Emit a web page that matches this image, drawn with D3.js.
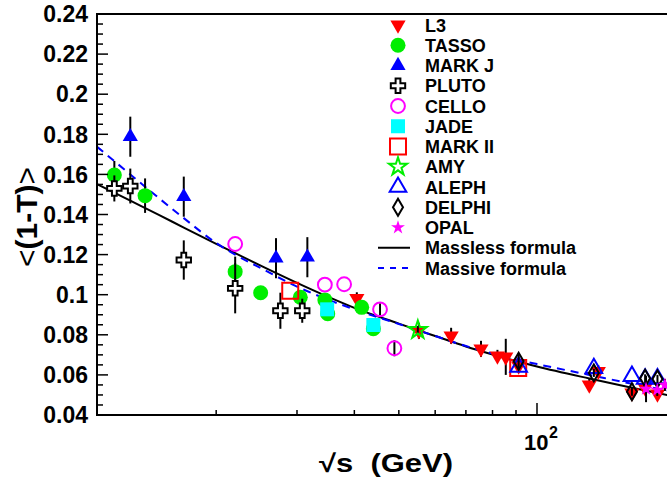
<!DOCTYPE html>
<html><head><meta charset="utf-8">
<script src="https://cdn.jsdelivr.net/npm/d3@7"></script>
<style>
body{margin:0;background:#fff}
svg{display:block}
text{font-family:"Liberation Sans",Arial,Helvetica,sans-serif;font-weight:bold;fill:#000}
</style>
</head><body>
<svg id="chart" width="667" height="480"></svg>
<script>
// ---------- data ----------
const yTickValues = [0.04,0.06,0.08,0.10,0.12,0.14,0.16,0.18,0.20,0.22,0.24];
const yTickLabels = ["0.04","0.06","0.08","0.1","0.12","0.14","0.16","0.18","0.2","0.22","0.24"];
const xMinorTicks = [20,30,40,50,60,70,80,90];
const xMajorTicks = [100];

const l3E   = [40.5, 55.3, 65.0, 75.5, 82.0, 85.5, 91.2, 130.0, 136.0, 161.0, 172.0, 183.0];
const l3V   = [0.0982,0.0820,0.0795,0.0730,0.0695,0.0690,0.0645,0.0550,0.0618,0.0510,0.0535,0.0505];
const l3Err = [0.003,0.004,0.004,0.004,0.003,0.009,0.001,0.003,0.003,0.003,0.003,0.003];

const tassoE   = [12.0, 14.0, 22.0, 25.0, 30.5, 34.5, 35.0, 41.5, 44.0];
const tassoV   = [0.1597,0.1494,0.1115,0.1010,0.0987,0.0974,0.0905,0.0937,0.0830];
const tassoErr = [0.007,0.0086,0.0075,0.002,0.002,0.002,0.002,0.002,0.002];

const markjE   = [13.0, 17.0, 27.0, 31.6];
const markjV   = [0.1788,0.1489,0.1182,0.1187];
const markjErr = [0.010,0.010,0.010,0.010];

const plutoE   = [12.0, 13.0, 17.0, 22.0, 27.6, 30.8];
const plutoV   = [0.1530,0.1542,0.1173,0.1032,0.0920,0.0920];
const plutoErr = [0.0065,0.0087,0.0098,0.0125,0.009,0.006];

const celloE   = [22.0, 34.5, 38.0, 45.5, 48.9];
const celloV   = [0.1253,0.1050,0.1052,0.0927,0.0733];
const celloErr = [0,0,0,0.003,0.004];

const jadeE   = [34.9, 44.0];
const jadeV   = [0.0927,0.0849];
const jadeErr = [0.002,0.002];

const mark2E   = [29.0, 91.0];
const mark2V   = [0.1020,0.0634];
const mark2Err = [0,0];

const amyE   = [55.0];
const amyV   = [0.0824];
const amyErr = [0.002];

const alephE   = [91.2, 133.0, 161.0, 172.0, 183.0];
const alephV   = [0.0640,0.0633,0.0594,0.0580,0.0582];
const alephErr = [0,0,0,0,0];

const delphiE   = [91.2, 133.0, 161.0, 172.0, 183.0];
const delphiV   = [0.0668,0.0610,0.0516,0.0583,0.0580];
const delphiErr = [0.004,0.002,0.002,0.002,0.002];

const opalE   = [172.8, 182.8, 190.0];
const opalV   = [0.0530,0.0525,0.0550];
const opalErr = [0.0066,0.003,0.003];

const masslessE = [11,13,15,17,20,22,25,30,35,40,50,60,70,80,90,100,130,160,200];
const masslessV = [0.1552,0.1469,0.1398,0.1335,0.1254,0.1207,0.1145,0.1059,0.0990,0.0934,0.0856,0.0794,0.0742,0.0702,0.0669,0.0642,0.0582,0.0537,0.0492];
const massiveE = [11,13,15,17,20,22,25,30,35,40,50,60,70,80,90,100,130,160,200];
const massiveV = [0.1738,0.1600,0.1482,0.1382,0.1258,0.1200,0.1133,0.1040,0.0976,0.0927,0.0854,0.0794,0.0744,0.0707,0.0677,0.0654,0.0600,0.0557,0.0515];

const legendNames = ["L3","TASSO","MARK J","PLUTO","CELLO","JADE","MARK II","AMY","ALEPH","DELPHI","OPAL","Massless formula","Massive formula"];

// ---------- layout ----------
const svg = d3.select("#chart");
const x = d3.scaleLog().domain([11, 200]).range([97, 537 + 459*Math.log10(2)]);
const y = d3.scaleLinear().domain([0.04, 0.24]).range([415, 14]);

// marker styles
const styles = {
  "L3":     {sym:d3.symbolTriangle, size:100, rot:180, fill:"#ff0000", stroke:"none", sw:0},
  "TASSO":  {sym:d3.symbolCircle,   size:177, rot:0,   fill:"#00ee00", stroke:"none", sw:0},
  "MARK J": {sym:d3.symbolTriangle, size:100, rot:0,   fill:"#0000ff", stroke:"none", sw:0},
  "PLUTO":  {sym:d3.symbolCross,    size:115, rot:0,   fill:"#ffffff", stroke:"#000", sw:2},
  "CELLO":  {sym:d3.symbolCircle,   size:150, rot:0,   fill:"none",    stroke:"#ff00ff", sw:2},
  "JADE":   {sym:d3.symbolSquare,   size:196, rot:0,   fill:"#00ffff", stroke:"none", sw:0},
  "MARK II":{sym:d3.symbolSquare,   size:256, rot:0,   fill:"none",    stroke:"#ff0000", sw:2},
  "AMY":    {sym:d3.symbolStar,     size:100, rot:0,   fill:"none",    stroke:"#00ee00", sw:2},
  "ALEPH":  {sym:d3.symbolTriangle, size:120, rot:0,   fill:"none",    stroke:"#0000ff", sw:2},
  "DELPHI": {sym:"diamond",         size:0,   rot:0,   fill:"none",    stroke:"#000", sw:2},
  "OPAL":   {sym:d3.symbolStar,     size:60,  rot:0,   fill:"#ff00ff", stroke:"none", sw:0}
};
function symPath(st){
  if (st.sym === "diamond") return "M0,-8.5L5,0L0,8.5L-5,0Z";
  return d3.symbol(st.sym, st.size)();
}
function drawMarker(g, name, cx, cy){
  const st = styles[name];
  g.append("path").attr("d", symPath(st))
    .attr("transform", `translate(${cx},${cy}) rotate(${st.rot})`)
    .attr("fill", st.fill).attr("stroke", st.stroke).attr("stroke-width", st.sw)
    .attr("stroke-linejoin","miter");
}

// curves (drawn beneath markers)
const line = d3.line().x(d=>x(d[0])).y(d=>y(d[1])).curve(d3.curveMonotoneX);
svg.append("clipPath").attr("id","pc").append("rect")
  .attr("x",97).attr("y",14).attr("width",580).attr("height",401);
const plot = svg.append("g").attr("clip-path","url(#pc)");
plot.append("path").datum(d3.zip(masslessE, masslessV)).attr("d", line)
  .attr("fill","none").attr("stroke","#000").attr("stroke-width",2);
plot.append("path").datum(d3.zip(massiveE, massiveV)).attr("d", line)
  .attr("fill","none").attr("stroke","#0000ff").attr("stroke-width",2).attr("stroke-dasharray","8,6");

// data series
const series = [
  ["L3", l3E, l3V, l3Err],
  ["TASSO", tassoE, tassoV, tassoErr],
  ["MARK J", markjE, markjV, markjErr],
  ["PLUTO", plutoE, plutoV, plutoErr],
  ["CELLO", celloE, celloV, celloErr],
  ["JADE", jadeE, jadeV, jadeErr],
  ["MARK II", mark2E, mark2V, mark2Err],
  ["AMY", amyE, amyV, amyErr],
  ["ALEPH", alephE, alephV, alephErr],
  ["DELPHI", delphiE, delphiV, delphiErr],
  ["OPAL", opalE, opalV, opalErr]
];
series.forEach(([name, E, V, Er]) => {
  const g = plot.append("g");
  E.forEach((e,i) => {
    if (Er[i] > 0) {
      g.append("line").attr("x1",x(e)).attr("x2",x(e))
        .attr("y1",y(V[i]-Er[i])).attr("y2",y(V[i]+Er[i]))
        .attr("stroke","#000").attr("stroke-width",2);
    }
  });
  E.forEach((e,i) => drawMarker(g, name, x(e), y(V[i])));
});

// axes frame
const ax = svg.append("g");
ax.append("line").attr("x1",97).attr("x2",667).attr("y1",415).attr("y2",415).attr("stroke","#000").attr("stroke-width",2);
ax.append("line").attr("x1",97).attr("x2",667).attr("y1",14).attr("y2",14).attr("stroke","#000").attr("stroke-width",2);
ax.append("line").attr("x1",97).attr("x2",97).attr("y1",13).attr("y2",416).attr("stroke","#000").attr("stroke-width",2);

// y ticks
const yMinor = d3.range(0.045, 0.2401, 0.005).filter(v => Math.abs(v*50 - Math.round(v*50)) > 1e-6);
yMinor.forEach(v => ax.append("line").attr("x1",97).attr("x2",103).attr("y1",y(v)).attr("y2",y(v)).attr("stroke","#000").attr("stroke-width",1.5));
yTickValues.forEach((v,i) => {
  ax.append("line").attr("x1",97).attr("x2",108).attr("y1",y(v)).attr("y2",y(v)).attr("stroke","#000").attr("stroke-width",1.5);
  ax.append("text").attr("x",88).attr("y",y(v)).attr("dy","0.36em").attr("text-anchor","end")
    .attr("font-size",23).text(yTickLabels[i]);
});
// x ticks
xMinorTicks.forEach(v => ax.append("line").attr("x1",x(v)).attr("x2",x(v)).attr("y1",415).attr("y2",410).attr("stroke","#000").attr("stroke-width",1.5));
xMajorTicks.forEach(v => {
  ax.append("line").attr("x1",x(v)).attr("x2",x(v)).attr("y1",415).attr("y2",403).attr("stroke","#000").attr("stroke-width",1.5);
  ax.append("text").attr("x",x(v)-13).attr("y",450).attr("font-size",22).text("10");
  ax.append("text").attr("x",x(v)+12).attr("y",438).attr("font-size",16).text("2");
});

// axis titles
svg.append("text").attr("x",319).attr("y",472).attr("font-size",25)
  .attr("textLength",134).attr("lengthAdjust","spacingAndGlyphs")
  .style("white-space","pre").text("\u221As  (GeV)");
const yl = svg.append("text").attr("transform","translate(37,217) rotate(-90)")
  .attr("text-anchor","middle").attr("font-size",30);
yl.append("tspan").attr("font-weight","normal").text("<");
yl.append("tspan").text("(1-T)");
yl.append("tspan").attr("font-weight","normal").text(">");

// legend
const lg = svg.append("g");
legendNames.forEach((n,i) => {
  const ly = 25 + i*20.25;
  if (i < 11) drawMarker(lg, n, 398, ly);
  else if (i === 11) lg.append("line").attr("x1",378).attr("x2",410).attr("y1",ly).attr("y2",ly).attr("stroke","#000").attr("stroke-width",2);
  else lg.append("line").attr("x1",378).attr("x2",412).attr("y1",ly).attr("y2",ly).attr("stroke","#0000ff").attr("stroke-width",2).attr("stroke-dasharray","6,6");
  lg.append("text").attr("x",425).attr("y",ly+6.5).attr("font-size",18).text(n);
});
</script>
</body></html>
